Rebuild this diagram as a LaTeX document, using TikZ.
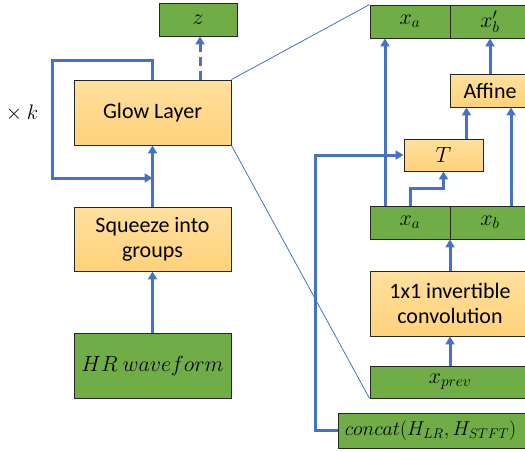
\documentclass[tikz,border=0pt]{standalone}
\usepackage{fix-cm}
\usepackage{fontspec}
\setmainfont{Carlito}
\usetikzlibrary{arrows.meta}

\begin{document}
\begin{tikzpicture}[
    x=1pt, y=-1pt,
    box/.style={
      draw=black!85,
      line width=0.9pt,
      inner sep=0pt,
      align=center,
      font=\fontsize{22}{25}\selectfont
    },
    layer/.style={
      box,
      top color={rgb,255:red,255;green,224;blue,158},
      bottom color={rgb,255:red,255;green,210;blue,122}
    },
    data/.style={
      box,
      fill={rgb,255:red,112;green,173;blue,71}
    },
    arr/.style={
      -{Triangle[length=8pt,width=9pt]},
      line width=3pt,
      draw={rgb,255:red,68;green,114;blue,196}
    },
    zoomline/.style={
      line width=0.8pt,
      draw={rgb,255:red,68;green,114;blue,196}
    }
  ]

  \useasboundingbox (0,0) rectangle (525,451);

  % left column
  \node[data, minimum width=78, minimum height=33] (z) at (198, 19.5) {$z$};
  \node[layer, minimum width=157, minimum height=65] (glow) at (152.5, 112.5) {Glow Layer};
  \node[layer, minimum width=157, minimum height=64] (squeeze) at (152.5, 239) {Squeeze into\\groups};
  \node[data, minimum width=157, minimum height=65] (hr) at (152.5, 365.5) {$HR\ waveform$};
  \node[font=\fontsize{21}{25}\selectfont] (times) at (22, 113) {$\times\ k$};
  \coordinate (loopin) at (152.5, 178);

  % right column (glow layer in detail)
  \node[data, minimum width=80, minimum height=33] (xaout) at (410, 21.5) {$x_a$};
  \node[data, minimum width=80, minimum height=33] (xbout) at (490, 21.5) {$x'_b$};
  \node[layer, minimum width=80, minimum height=33] (affine) at (490, 90.5) {Affine};
  \node[layer, minimum width=79, minimum height=32] (tnet) at (443.5, 155) {$T$};
  \node[data, minimum width=80, minimum height=33] (xa) at (410, 222.5) {$x_a$};
  \node[data, minimum width=80, minimum height=33] (xb) at (490, 222.5) {$x_b$};
  \node[layer, minimum width=160, minimum height=65] (conv) at (450, 303.5) {1x1 invertible\\convolution};
  \node[data, minimum width=160, minimum height=32] (xprev) at (450, 382) {$x_{prev}$};
  \node[data, minimum width=190, minimum height=35, font=\fontsize{20}{24}\selectfont] (concat) at (433, 430.5) {$concat(H_{LR},H_{STFT})$\hspace{5pt}};

  \draw[zoomline] (glow.north east) -- (xaout.north west);
  \draw[zoomline] (glow.south east) -- (xprev.south west);

  \draw[arr] (hr) -- (squeeze);
  \draw[arr] (squeeze) -- (glow);
  \draw[arr] (glow.north) |- (52, 60) |- (loopin);
  \draw[arr, dash pattern=on 9pt off 5pt] ([xshift=47.5]glow.north) -- ([xshift=47.5]glow.north |- z.south);

  \draw[arr] (xprev) -- (conv);
  \draw[arr] (conv.north) -- (conv.north |- xa.south);
  \draw[arr] ([xshift=-25]xa.north) -- ([xshift=-25]xa.north |- xaout.south);
  \draw[arr] (xa.north) -- ++(0,-17) -| (tnet.south);
  \draw[arr] ([xshift=21]xb.north) -- ([xshift=21]xb.north |- affine.south);
  \draw[arr] ([xshift=23]tnet.north) -- ([xshift=23]tnet.north |- affine.south);
  \draw[arr] (affine) -- (xbout);
  \draw[arr] (concat.west) -- ++(-22,0) |- (tnet.west);

\end{tikzpicture}
\end{document}
